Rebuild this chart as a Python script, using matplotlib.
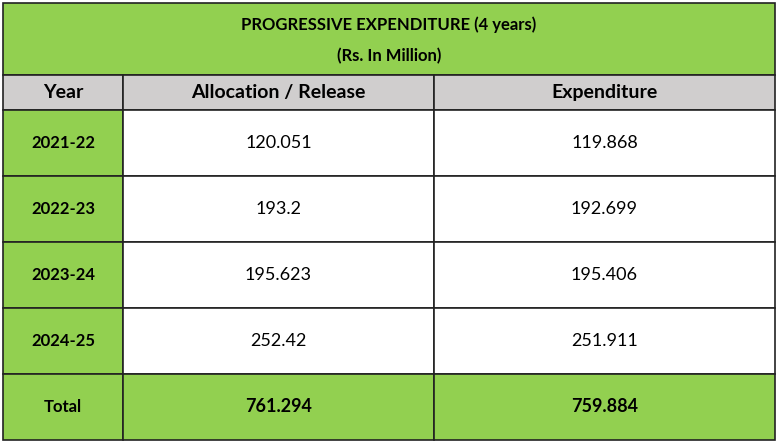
import matplotlib
matplotlib.use("Agg")
import matplotlib.pyplot as plt
from matplotlib.patches import Rectangle

title = ["PROGRESSIVE EXPENDITURE (4 years)", "(Rs. In Million)"]
headers = ["Year", "Allocation / Release", "Expenditure"]
years = ["2021-22", "2022-23", "2023-24", "2024-25"]
allocation = ["120.051", "193.2", "195.623", "252.42"]
expenditure = ["119.868", "192.699", "195.406", "251.911"]
total = ["Total", "761.294", "759.884"]

GREEN = "#92D050"
GREY = "#D0CECE"
W, H = 779, 443
fig = plt.figure(figsize=(W/100, H/100), dpi=100)
ax = fig.add_axes([0, 0, 1, 1])
ax.set_xlim(0, W); ax.set_ylim(H, 0); ax.axis("off")
plt.rcParams['font.family'] = ['Lato', 'DejaVu Sans']

cols = [3, 123, 434, 775]
rows = [3, 75, 110, 176, 242, 308, 374, 440]

def cell(x0, x1, y0, y1, color, text=None, bold=False, size=13):
    ax.add_patch(Rectangle((x0, y0), x1-x0, y1-y0, facecolor=color, edgecolor="#222222", lw=1.2))
    if text is not None:
        ax.text((x0+x1)/2, (y0+y1)/2, text, ha="center", va="center", fontsize=size,
                fontweight="bold" if bold else "normal", color="black")

ax.add_patch(Rectangle((cols[0], rows[0]), cols[3]-cols[0], rows[1]-rows[0], facecolor=GREEN, edgecolor="#222222", lw=1.2))
ax.text((cols[0]+cols[3])/2, 25, title[0], ha="center", va="center", fontsize=12, fontweight="bold")
ax.text((cols[0]+cols[3])/2, 56, title[1], ha="center", va="center", fontsize=12, fontweight="bold")
for i, h in enumerate(headers):
    cell(cols[i], cols[i+1], rows[1], rows[2], GREY, h, bold=True, size=14)
for r, (y, a, e) in enumerate(zip(years, allocation, expenditure)):
    y0, y1 = rows[2+r], rows[3+r]
    cell(cols[0], cols[1], y0, y1, GREEN, y, bold=True, size=12)
    cell(cols[1], cols[2], y0, y1, "white", a, size=13)
    cell(cols[2], cols[3], y0, y1, "white", e, size=13)
for i, t in enumerate(total):
    cell(cols[i], cols[i+1], rows[6], rows[7], GREEN, t, bold=True, size=12 if i == 0 else 13)

fig.savefig("out.png", dpi=100, facecolor="white")
